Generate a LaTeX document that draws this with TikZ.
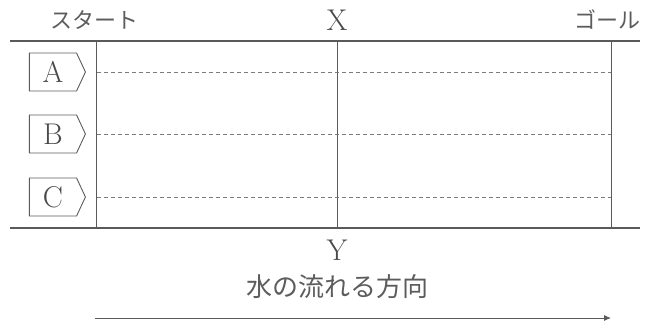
\documentclass[tikz,border=0pt]{standalone}
\usepackage{fontspec}
\newfontfamily\jp{Noto Sans CJK JP}
\usetikzlibrary{shapes.symbols,arrows.meta}
\definecolor{ink}{HTML}{4A4A4A}
\definecolor{jink}{HTML}{5C5C5C}
\definecolor{linegray}{HTML}{5A5A5A}
\tikzset{
  bank/.style={draw=linegray, line width=1.8pt},
  post/.style={draw=linegray, line width=0.9pt},
  lane/.style={draw=linegray!80, line width=0.7pt, dash pattern=on 4pt off 3pt},
  tag/.style={shape=signal, signal to=east, signal pointer angle=130, draw=linegray, line width=0.9pt,
    minimum width=56pt, minimum height=38pt, inner sep=0pt, text=ink, font=\fontsize{30}{30}\selectfont},
  jlabel/.style={inner sep=0pt, text=jink, font=\jp\fontsize{22}{22}\selectfont},
  llabel/.style={inner sep=0pt, text=ink, font=\fontsize{30}{30}\selectfont},
  flow/.style={draw=linegray, line width=0.9pt, -{Latex[length=7pt,width=6pt]}}
}
\begin{document}
\begin{tikzpicture}[x=1pt,y=-1pt]
\useasboundingbox (0,0) rectangle (648,324);
% banks
\coordinate (tl) at (10,41);
\coordinate (tr) at (640,41);
\coordinate (bl) at (10,228);
\coordinate (br) at (640,228);
\draw[bank] (tl) -- (tr);
\draw[bank] (bl) -- (br);
% posts
\coordinate (s1) at (96,41);  \coordinate (s2) at (96,228);
\coordinate (m1) at (337,41); \coordinate (m2) at (337,228);
\coordinate (g1) at (611,41); \coordinate (g2) at (611,228);
\draw[post] (s1) -- (s2);
\draw[post] (m1) -- (m2);
\draw[post] (g1) -- (g2);
% lanes
\coordinate (la) at (97,72);  \coordinate (ra) at (611,72);
\coordinate (lb) at (97,134); \coordinate (rb) at (611,134);
\coordinate (lc) at (97,197); \coordinate (rc) at (611,197);
\draw[lane] (la) -- (ra);
\draw[lane] (lb) -- (rb);
\draw[lane] (lc) -- (rc);
% tags
\node[tag] (A) at (53,72) {A};
\node[tag] (B) at (53,134) {B};
\node[tag] (C) at (53,197) {C};
% labels
\node[jlabel] (start) at (94,20) {スタート};
\node[llabel] (X) at (337,20) {X};
\node[jlabel] (goal) at (607,20) {ゴール};
\node[llabel] (Y) at (337,250) {Y};
\node[jlabel, font=\jp\fontsize{26}{26}\selectfont] (dir) at (337,287) {水の流れる方向};
% flow arrow
\coordinate (f1) at (95,318);
\coordinate (f2) at (611,318);
\draw[flow] (f1) -- (f2);
\end{tikzpicture}
\end{document}
